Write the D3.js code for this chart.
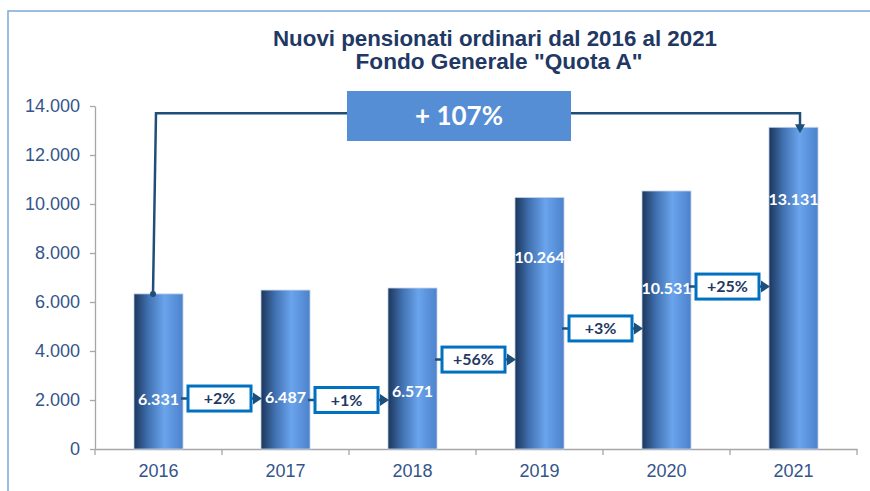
<!DOCTYPE html>
<html>
<head>
<meta charset="utf-8">
<script src="https://cdn.jsdelivr.net/npm/d3@7"></script>
<style>
  body { margin: 0; background: #fff; }
  svg { display: block; }
</style>
</head>
<body>
<div class="chart"></div>
<script>
// chart data
var years = ["2016", "2017", "2018", "2019", "2020", "2021"];
var pensioners = [6331, 6487, 6571, 10264, 10531, 13131];
// heights (in data units) where the value labels and the change boxes sit
var labelAt = [2040, 2120, 2330, 7800, 6570, 10200];
var changeAt = [2060, 2000, 3650, 4920, 6630];
var yTicks = [0, 2000, 4000, 6000, 8000, 10000, 12000, 14000];
var titleLines = ["Nuovi pensionati ordinari dal 2016 al 2021", "Fondo Generale \"Quota A\""];

var svgWidth = 870;
var svgHeight = 491;

var navy = "#1f3864";
var lineBlue = "#1f4e79";
var axisText = "#34558b";

var it = d3.formatLocale({ decimal: ",", thousands: ".", grouping: [3], currency: ["", "€"] });
var fmt = it.format(",d");

var svg = d3.select(".chart")
  .append("svg")
  .attr("width", svgWidth)
  .attr("height", svgHeight);

// gradient for the cylinder bars
var grad = svg.append("defs").append("linearGradient")
  .attr("id", "barGrad")
  .attr("x1", "0%").attr("x2", "100%").attr("y1", "0%").attr("y2", "0%");
grad.append("stop").attr("offset", "0%").attr("stop-color", "#1c365c");
grad.append("stop").attr("offset", "30%").attr("stop-color", "#4273b3");
grad.append("stop").attr("offset", "62%").attr("stop-color", "#6aa4ec");
grad.append("stop").attr("offset", "100%").attr("stop-color", "#4c82cb");

// outer frame (only top and left visible)
svg.append("path")
  .attr("d", "M8,491 L8,11 L870,11")
  .attr("fill", "none")
  .attr("stroke", "#7ea7da")
  .attr("stroke-width", 1.5);

// title, condensed like the original
var titleWidths = [444, 287];
var titleX = [495, 499];
svg.append("g").selectAll("text")
  .data(titleLines)
  .enter()
  .append("text")
  .attr("x", (d, i) => titleX[i])
  .attr("y", (d, i) => 46 + i * 23)
  .attr("text-anchor", "middle")
  .attr("textLength", (d, i) => titleWidths[i])
  .attr("lengthAdjust", "spacingAndGlyphs")
  .attr("font-family", "'Liberation Sans', Arial, sans-serif")
  .attr("font-weight", "bold")
  .attr("font-size", "22px")
  .attr("fill", navy)
  .text(d => d);

/******** scales and axes ********/
var x = d3.scaleBand()
  .domain(years)
  .range([95, 857])
  .padding(0);

var y = d3.scaleLinear()
  .domain([0, 14000])
  .range([449, 106]);

var barW = x.bandwidth() * 0.386;
function barLeft(i) { return x(years[i]) + (x.bandwidth() - barW) / 2; }
function barRight(i) { return barLeft(i) + barW; }
function barMid(i) { return x(years[i]) + x.bandwidth() / 2; }

var yAxis = d3.axisLeft(y)
  .tickValues(yTicks)
  .tickFormat(fmt)
  .tickSize(5)
  .tickSizeOuter(0)
  .tickPadding(10);

var xAxis = d3.axisBottom(x)
  .tickSize(0)
  .tickPadding(15);

var gy = svg.append("g")
  .attr("transform", "translate(95,0)")
  .call(yAxis);

var gx = svg.append("g")
  .attr("transform", "translate(0,449)")
  .call(xAxis);

[gx, gy].forEach(function (g) {
  g.select(".domain").attr("stroke", "#a6a6a6").attr("stroke-width", 1.3);
  g.selectAll(".tick line").attr("stroke", "#a6a6a6").attr("stroke-width", 1.3);
  g.selectAll("text")
    .attr("font-family", "'Liberation Sans', Arial, sans-serif")
    .attr("font-size", "18px")
    .attr("fill", axisText);
});

// category boundary ticks on the x axis
var bounds = years.map(d => x(d)).concat([x.range()[1]]);
svg.append("g").selectAll("line")
  .data(bounds)
  .enter()
  .append("line")
  .attr("x1", d => d).attr("x2", d => d)
  .attr("y1", 449).attr("y2", 455)
  .attr("stroke", "#a6a6a6")
  .attr("stroke-width", 1.3);

/******** bars ********/
svg.append("g").selectAll("rect")
  .data(pensioners)
  .enter()
  .append("rect")
  .attr("x", (d, i) => barLeft(i))
  .attr("y", d => y(d))
  .attr("width", barW)
  .attr("height", d => y(0) - y(d))
  .attr("fill", "url(#barGrad)")
  .attr("stroke", "#c4d4ea")
  .attr("stroke-width", 0.8);

/******** total change bracket ********/
var totalPct = Math.round((pensioners[5] / pensioners[0] - 1) * 100);
var topY = y(13700);
var boxX0 = 347, boxX1 = 571;

var leftX = barMid(0) - 5.5;
var rightX = barMid(5) + 6.5;

svg.append("path")
  .attr("d", `M${leftX},${y(pensioners[0])} L${leftX + 3},${topY} L${boxX0},${topY}`)
  .attr("fill", "none")
  .attr("stroke", lineBlue)
  .attr("stroke-width", 2.5);

svg.append("circle")
  .attr("cx", leftX)
  .attr("cy", y(pensioners[0]))
  .attr("r", 3)
  .attr("fill", lineBlue);

svg.append("path")
  .attr("d", `M${boxX1},${topY} L${rightX},${topY} L${rightX},${y(pensioners[5]) - 1}`)
  .attr("fill", "none")
  .attr("stroke", lineBlue)
  .attr("stroke-width", 2.5);

svg.append("path")
  .attr("d", `M${rightX - 5},${y(pensioners[5]) - 3} L${rightX + 5},${y(pensioners[5]) - 3} L${rightX},${y(pensioners[5]) + 6} Z`)
  .attr("fill", lineBlue);

svg.append("rect")
  .attr("x", boxX0)
  .attr("y", y(14000) - 15)
  .attr("width", boxX1 - boxX0)
  .attr("height", 50)
  .attr("fill", "#558ed5");

svg.append("text")
  .attr("x", (boxX0 + boxX1) / 2)
  .attr("y", y(14000) + 19)
  .attr("text-anchor", "middle")
  .attr("font-family", "Lato, 'Open Sans', sans-serif")
  .attr("font-weight", "bold")
  .attr("font-size", "26px")
  .attr("fill", "#fff")
  .text("+ " + totalPct + "%");

/******** year on year change boxes ********/
var changes = pensioners.slice(1).map((d, i) => Math.round((d / pensioners[i] - 1) * 100));

var cg = svg.append("g").selectAll("g")
  .data(changes)
  .enter()
  .append("g");

cg.append("line")
  .attr("x1", (d, i) => barRight(i) - 2)
  .attr("x2", (d, i) => barLeft(i + 1) - 7)
  .attr("y1", (d, i) => y(changeAt[i]))
  .attr("y2", (d, i) => y(changeAt[i]))
  .attr("stroke", lineBlue)
  .attr("stroke-width", 2.5);

cg.append("path")
  .attr("d", function (d, i) {
    var tx = barLeft(i + 1) + 1, ty = y(changeAt[i]);
    return `M${tx - 9},${ty - 6} L${tx},${ty} L${tx - 9},${ty + 6} Z`;
  })
  .attr("fill", lineBlue);

cg.append("rect")
  .attr("x", (d, i) => x(years[i + 1]) - 34)
  .attr("y", (d, i) => y(changeAt[i]) - 12.5)
  .attr("width", 63)
  .attr("height", 25)
  .attr("fill", "#fff")
  .attr("stroke", "#0070c0")
  .attr("stroke-width", 3);

cg.append("text")
  .attr("x", (d, i) => x(years[i + 1]) - 2.5)
  .attr("y", (d, i) => y(changeAt[i]) + 5.5)
  .attr("text-anchor", "middle")
  .attr("font-family", "Lato, 'Open Sans', sans-serif")
  .attr("font-weight", "bold")
  .attr("font-size", "16px")
  .attr("fill", navy)
  .text(d => "+" + d + "%");

/******** value labels ********/
svg.append("g").selectAll("text")
  .data(pensioners)
  .enter()
  .append("text")
  .attr("x", (d, i) => barMid(i))
  .attr("y", (d, i) => y(labelAt[i]) + 5.5)
  .attr("text-anchor", "middle")
  .attr("font-family", "Lato, 'Open Sans', sans-serif")
  .attr("font-weight", "bold")
  .attr("font-size", "16px")
  .attr("fill", "#fff")
  .text(d => fmt(d));
</script>
</body>
</html>
